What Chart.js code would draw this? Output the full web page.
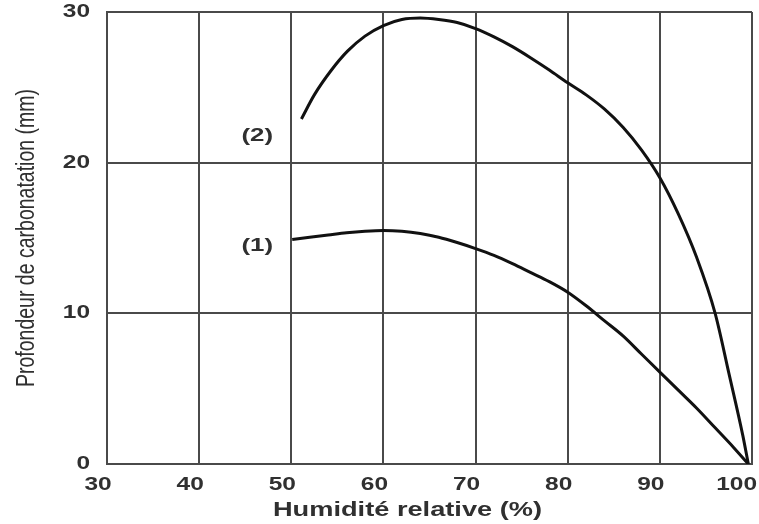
<!DOCTYPE html>
<html lang="fr">
<head>
<meta charset="utf-8">
<title>Profondeur de carbonatation</title>
<script src="https://cdn.jsdelivr.net/npm/chart.js@4.4.1/dist/chart.umd.min.js"></script>
<style>
  html, body { margin: 0; padding: 0; background: #ffffff; }
  #wrap { width: 759px; height: 524px; }
</style>
</head>
<body>
<div id="wrap"><canvas id="chart" width="759" height="524"></canvas></div>
<script>
// Humidité relative (%) and carbonation depth (mm) for the two curves
const humidite2 = [51.1, 52.5, 54.3, 56.1, 58.0, 60.0, 62.0, 64.0, 66.0, 68.0, 70.0, 72.0, 74.0, 76.0, 78.0, 80.0, 82.0, 84.0, 86.0, 88.0, 90.0, 92.0, 94.0, 96.0, 97.5, 99.0, 99.6];
const profondeur2 = [22.9, 24.5, 26.1, 27.4, 28.4, 29.1, 29.5, 29.6, 29.5, 29.3, 28.9, 28.35, 27.7, 26.95, 26.15, 25.3, 24.5, 23.55, 22.35, 20.85, 19.0, 16.6, 13.7, 10.0, 6.0, 1.9, 0.0];

const humidite1 = [50.1, 52.0, 54.0, 56.0, 58.0, 60.0, 62.0, 64.0, 66.0, 68.0, 70.0, 72.0, 74.0, 76.0, 78.0, 80.0, 82.0, 84.0, 86.0, 88.0, 90.0, 92.0, 94.0, 96.0, 98.0, 99.6];
const profondeur1 = [14.9, 15.05, 15.2, 15.35, 15.45, 15.5, 15.45, 15.3, 15.05, 14.7, 14.3, 13.85, 13.3, 12.7, 12.1, 11.4, 10.5, 9.5, 8.5, 7.3, 6.1, 4.9, 3.7, 2.4, 1.1, 0.0];

const curveNames = ['(1)', '(2)'];
const xTicks = [30, 40, 50, 60, 70, 80, 90, 100];
const yTicks = [0, 10, 20, 30];

const toPoints = (xs, ys) => xs.map((x, i) => ({ x: x, y: ys[i] }));

const INK = '#303030';
const GRID = '#4a4a4a';
const WIDE = 1.36;          // horizontal widening of the lettering
const FONT = '"Liberation Sans", Arial, sans-serif';

// Wrap a scale method so its text is drawn with the given canvas tweak
function wrapText(scale, name, setup) {
  const base = scale[name];
  scale[name] = function () {
    const ctx = this.ctx;
    ctx.save();
    const undo = setup.call(this, ctx);
    base.apply(this, arguments);
    if (undo) undo();
    ctx.restore();
  };
}

// Every fillText call is widened around its own anchor point,
// and kept inside the canvas on the right-hand side
function widenEachText(ctx) {
  const plain = ctx.fillText;
  const limit = ctx.canvas.width - 2;
  ctx.fillText = function (text, x, y) {
    const w = this.measureText(text).width * WIDE;
    let right = x;
    if (this.textAlign === 'center') right = x + w / 2;
    else if (this.textAlign === 'left' || this.textAlign === 'start') right = x + w;
    const m = this.getTransform();
    const over = m.e + m.a * right - limit;
    const shift = over > 0 ? -over / m.a : 0;
    this.save();
    this.translate(x + shift, y);
    this.scale(WIDE, 1);
    plain.call(this, text, 0, 0);
    this.restore();
  };
  return () => { delete ctx.fillText; };
}

const wideLettering = {
  id: 'wideLettering',
  beforeDraw(chart) {
    const x = chart.scales.x, y = chart.scales.y;
    if (x.$wide) return;
    wrapText(x, 'drawLabels', widenEachText);
    wrapText(y, 'drawLabels', widenEachText);
    wrapText(x, 'drawTitle', function (ctx) {
      const mid = (this.left + this.right) / 2;
      ctx.translate(mid - 22, 0);
      ctx.scale(WIDE, 1);
      ctx.translate(-mid, 0);
    });
    wrapText(y, 'drawTitle', function (ctx) {
      const cx = this.left + 15 + 11.7;
      ctx.translate(cx, 0);
      ctx.scale(WIDE, 1);
      ctx.translate(-cx, 0);
    });
    x.$wide = true;
  }
};

// Curve names placed beside the start of each curve
const curveLabels = {
  id: 'curveLabels',
  afterDatasetsDraw(chart, args, opts) {
    const ctx = chart.ctx;
    const xs = chart.scales.x, ys = chart.scales.y;
    opts.items.forEach(it => {
      ctx.save();
      ctx.font = 'bold 19px ' + FONT;
      ctx.fillStyle = INK;
      ctx.textAlign = 'center';
      ctx.textBaseline = 'middle';
      ctx.translate(xs.getPixelForValue(it.x), ys.getPixelForValue(it.y));
      ctx.scale(WIDE, 1);
      ctx.fillText(it.text, 0, 0);
      ctx.restore();
    });
  }
};

const lineStyle = {
  showLine: true,
  borderColor: '#111111',
  borderWidth: 3,
  pointRadius: 0,
  fill: false,
  cubicInterpolationMode: 'monotone'
};

new Chart(document.getElementById('chart'), {
  type: 'scatter',
  data: {
    datasets: [
      Object.assign({ label: curveNames[0], data: toPoints(humidite1, profondeur1) }, lineStyle),
      Object.assign({ label: curveNames[1], data: toPoints(humidite2, profondeur2) }, lineStyle)
    ]
  },
  options: {
    responsive: false,
    animation: false,
    layout: { padding: { top: 12, right: 7, left: 0, bottom: 0 } },
    plugins: {
      legend: { display: false },
      tooltip: { enabled: false },
      curveLabels: {
        items: [
          { text: curveNames[1], x: 46.3, y: 21.8 },
          { text: curveNames[0], x: 46.3, y: 14.5 }
        ]
      }
    },
    scales: {
      x: {
        type: 'linear',
        min: xTicks[0],
        max: xTicks[xTicks.length - 1],
        afterBuildTicks: s => { s.ticks = xTicks.map(v => ({ value: v })); },
        afterFit: s => { s.height = 60; s.paddingLeft = 0; s.paddingRight = 0; },
        grid: { color: GRID, lineWidth: 2, drawTicks: false },
        border: { color: GRID, width: 2 },
        ticks: {
          autoSkip: false,
          maxRotation: 0,
          padding: 10,
          labelOffset: -9,
          color: INK,
          font: { family: FONT, size: 18, weight: 'bold' }
        },
        title: {
          display: true,
          text: 'Humidité relative (%)',
          color: INK,
          font: { family: FONT, size: 20, weight: 'bold' },
          padding: { top: 2, bottom: 2 }
        }
      },
      y: {
        type: 'linear',
        min: yTicks[0],
        max: yTicks[yTicks.length - 1],
        afterBuildTicks: s => { s.ticks = yTicks.map(v => ({ value: v })); },
        afterFit: s => { s.width = 107; s.paddingTop = 0; s.paddingBottom = 0; },
        grid: { color: GRID, lineWidth: 2, drawTicks: false },
        border: { color: GRID, width: 2 },
        ticks: {
          padding: 17,
          color: INK,
          font: { family: FONT, size: 18, weight: 'bold' }
        },
        title: {
          display: true,
          text: 'Profondeur de carbonatation (mm)',
          color: INK,
          font: { family: FONT, size: 19.5, weight: 'normal' },
          padding: { top: 15, bottom: 0 }
        }
      }
    }
  },
  plugins: [wideLettering, curveLabels]
});
</script>
</body>
</html>
